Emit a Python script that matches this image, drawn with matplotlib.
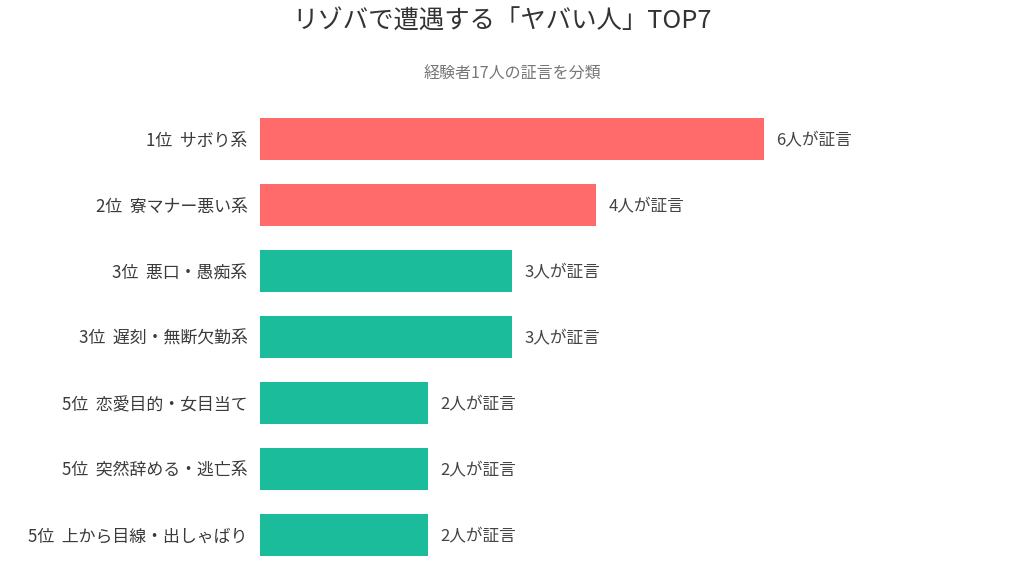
import matplotlib
matplotlib.use("Agg")
import matplotlib.pyplot as plt

plt.rcParams['font.family'] = ['Noto Sans CJK JP', 'DejaVu Sans']

# data
labels = [
    "1位  サボり系",
    "2位  寮マナー悪い系",
    "3位  悪口・愚痴系",
    "3位  遅刻・無断欠勤系",
    "5位  恋愛目的・女目当て",
    "5位  突然辞める・逃亡系",
    "5位  上から目線・出しゃばり",
]
counts = [6, 4, 3, 3, 2, 2, 2]
value_labels = ["6人が証言", "4人が証言", "3人が証言", "3人が証言",
                "2人が証言", "2人が証言", "2人が証言"]

red = "#FF6B6B"
teal = "#1ABC9C"
colors = [red if i < 2 else teal for i in range(len(counts))]

fig = plt.figure(figsize=(10.24, 5.86), dpi=100)
ax = fig.add_axes([0.2539, 0.0307, 0.70, 0.7884])

ypos = list(range(len(counts)))
ax.barh(ypos, counts, height=0.64, color=colors)
ax.set_ylim(len(counts) - 0.5, -0.5)
ax.set_xlim(0, 714 / 84 * 0.70 / 0.6973)

ax.set_yticks(ypos)
ax.set_yticklabels(labels, fontsize=12.2, color="#3a3a3a")
ax.tick_params(axis='y', length=0, pad=9)
ax.set_xticks([])
for s in ax.spines.values():
    s.set_visible(False)

for y, v, t in zip(ypos, counts, value_labels):
    ax.text(v + 0.15, y, t, va='center_baseline', ha='left', fontsize=12, color="#444444")

fig.text(0.49, 0.963, "リゾバで遭遇する「ヤバい人」TOP7", ha='center', va='center',
         fontsize=18.3, color="#333333")
fig.text(0.5, 0.875, "経験者17人の証言を分類", ha='center', va='center',
         fontsize=11.5, color="#777777")

fig.savefig("out.png", dpi=100)
